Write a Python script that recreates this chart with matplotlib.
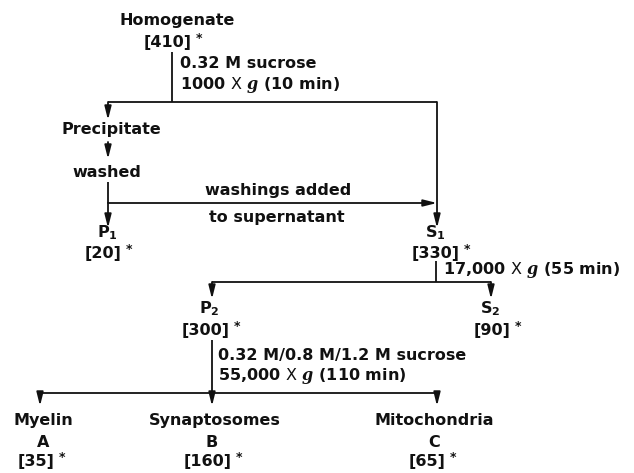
import matplotlib
matplotlib.use("Agg")
import matplotlib.pyplot as plt

plt.rcParams['font.family'] = ['DejaVu Sans']
plt.rcParams['mathtext.fontset'] = 'custom'
plt.rcParams['mathtext.rm'] = 'DejaVu Sans:bold'
plt.rcParams['mathtext.it'] = 'DejaVu Serif:italic:bold'
plt.rcParams['mathtext.bf'] = 'DejaVu Sans:bold'
plt.rcParams['mathtext.sf'] = 'DejaVu Sans'

# ---- content ----
node_labels = ['Homogenate', 'Precipitate', 'washed', 'P$_1$', 'S$_1$',
               'P$_2$', 'S$_2$', 'Myelin', 'Synaptosomes', 'Mitochondria']
band_letters = ['A', 'B', 'C']
yield_values = [410, 20, 330, 300, 90, 35, 160, 65]
step1_text = ['0.32 M sucrose', r'1000 $\mathsf{X}$ $g$ (10 min)']
wash_text = ['washings added', 'to supernatant']
step2_text = [r'17,000 $\mathsf{X}$ $g$ (55 min)']
step3_text = ['0.32 M/0.8 M/1.2 M sucrose', r'55,000 $\mathsf{X}$ $g$ (110 min)']

# ---- layout (pixel coordinates of the 634x473 canvas) ----
W, H = 634, 473
fig = plt.figure(figsize=(W / 100, H / 100), dpi=100)
ax = fig.add_axes([0, 0, 1, 1])
ax.set_xlim(0, W)
ax.set_ylim(H, 0)
ax.axis('off')

FS = 11.5
LW = 1.3
col = '#111111'


def label(x, y, s, ha='center', fs=FS):
    return ax.text(x, y, s, ha=ha, va='center', fontsize=fs,
                   fontweight='bold', color=col)


def value(x, y, v):
    t = label(x, y, '[%d]' % v)
    ax.annotate('*', xy=(1, 1), xycoords=t, xytext=(3, -3),
                textcoords='offset points', ha='left', va='center',
                fontsize=9, fontweight='bold', color=col)


def line(x0, y0, x1, y1):
    ax.plot([x0, x1], [y0, y1], color=col, lw=LW, solid_capstyle='butt')


def arrow(x0, y0, x1, y1):
    ax.annotate('', xy=(x1, y1), xytext=(x0, y0),
                arrowprops=dict(arrowstyle='-|>,head_length=1.0,head_width=0.25',
                                mutation_scale=8, color=col, lw=LW,
                                shrinkA=0, shrinkB=0))


# Homogenate
label(177, 20, node_labels[0])
value(168, 42, yield_values[0])
line(172, 52, 172, 102)
label(180, 63, step1_text[0], ha='left')
label(180, 85, step1_text[1], ha='left')
line(108, 102, 437, 102)

# Precipitate branch
arrow(108, 102, 108, 120)
label(111, 129, node_labels[1])
arrow(108, 142, 108, 159)
label(107, 172, node_labels[2])
line(108, 182, 108, 203)
arrow(108, 203, 108, 228)
arrow(108, 203, 437, 203)
label(278, 190, wash_text[0])
label(277, 217, wash_text[1])
label(107, 233, node_labels[3])
value(103, 253, yield_values[1])

# Supernatant S1
arrow(437, 102, 437, 228)
label(435, 233, node_labels[4])
value(436, 253, yield_values[2])
line(436, 261, 436, 282)
label(443, 270, step2_text[0], ha='left')
line(212, 282, 491, 282)
arrow(212, 282, 212, 299)
arrow(491, 282, 491, 299)
label(209, 309, node_labels[5])
value(206, 330, yield_values[3])
label(490, 309, node_labels[6])
value(492, 330, yield_values[4])

# Gradient
line(212, 340, 212, 393)
label(218, 355, step3_text[0], ha='left')
label(218, 376, step3_text[1], ha='left')
line(40, 393, 437, 393)
arrow(40, 393, 40, 406)
arrow(212, 393, 212, 406)
arrow(437, 393, 437, 406)

bx = [43, 215, 434]
for i in range(3):
    label(bx[i], 420, node_labels[7 + i])
    label(bx[i] + (0 if i != 1 else -3), 442, band_letters[i])
    value(bx[i] - 7, 461, yield_values[5 + i])

fig.savefig('out.png', dpi=100, facecolor='white')
